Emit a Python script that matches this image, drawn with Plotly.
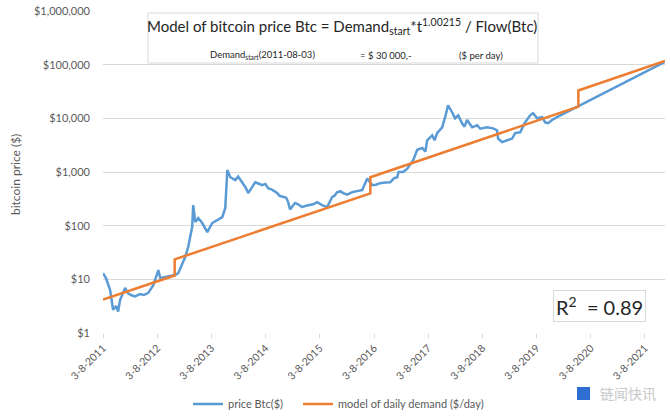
import plotly.graph_objects as go

# ---- data ----
price_dates = [
    "2011-08-03", "2011-08-23", "2011-09-20", "2011-10-10", "2011-10-30", "2011-11-13",
    "2011-11-26", "2011-12-30", "2012-01-19", "2012-02-08", "2012-03-05", "2012-04-09",
    "2012-05-05", "2012-06-03", "2012-07-07", "2012-08-10", "2012-08-23", "2012-09-26",
    "2012-10-29", "2012-12-02", "2012-12-22", "2013-02-07", "2013-02-27", "2013-03-26",
    "2013-04-02", "2013-04-16", "2013-05-06", "2013-06-02", "2013-07-06", "2013-08-08",
    "2013-09-11", "2013-10-15", "2013-11-04", "2013-11-18", "2013-12-08", "2013-12-24",
    "2014-01-10", "2014-01-30", "2014-02-27", "2014-03-20", "2014-04-08", "2014-04-25",
    "2014-05-25", "2014-06-15", "2014-07-11", "2014-08-01", "2014-08-20", "2014-09-15",
    "2014-10-20", "2014-11-05", "2014-11-29", "2014-12-20", "2015-01-02", "2015-01-15",
    "2015-02-05", "2015-02-18", "2015-03-10", "2015-04-06", "2015-05-01", "2015-05-30",
    "2015-06-20", "2015-07-16", "2015-08-19", "2015-09-22", "2015-10-25", "2015-11-10",
    "2015-11-28", "2015-12-20", "2016-01-07", "2016-02-05", "2016-03-08", "2016-04-10",
    "2016-05-15", "2016-06-18", "2016-07-21", "2016-08-15", "2016-09-13", "2016-10-15",
    "2016-11-20", "2016-12-15", "2017-01-06", "2017-01-15", "2017-02-15", "2017-03-15",
    "2017-04-04", "2017-04-24", "2017-05-21", "2017-06-24", "2017-07-15", "2017-07-27",
    "2017-08-30", "2017-09-15", "2017-10-02", "2017-11-05", "2017-11-25", "2017-12-15",
    "2018-01-11", "2018-01-31", "2018-02-21", "2018-03-19", "2018-04-05", "2018-04-22",
    "2018-05-26", "2018-06-29", "2018-07-20", "2018-08-01", "2018-09-04", "2018-10-14",
    "2018-11-10", "2018-11-17", "2018-12-14", "2019-01-17", "2019-02-20", "2019-03-12",
    "2019-04-15", "2019-05-18", "2019-06-21", "2019-07-11", "2019-08-07", "2019-09-10",
    "2019-09-30", "2019-10-20", "2019-11-16", "2019-12-19", "2021-12-12",
]
price_values = [
    13, 10.6, 6.3, 2.7, 3.2, 2.5,
    4.1, 6.9, 5.5, 5.1, 4.8, 5.3,
    5.1, 5.6, 7.8, 14.9, 10.6, 11,
    11.5, 12, 13, 26, 40, 94,
    242, 117, 139, 112, 76, 112,
    127, 144, 212, 1090, 800, 760,
    705, 820, 620, 520, 405, 470,
    645, 610, 570, 600, 500, 470,
    405, 360, 340, 330, 275, 200,
    240, 265, 250, 222, 235, 242,
    250, 275, 242, 222, 340, 360,
    420, 440, 405, 380, 420, 440,
    460, 760, 570, 580, 620, 640,
    645, 760, 800, 1000, 1000, 1150,
    1350, 1660, 2600, 2800, 2400, 3900,
    4800, 3900, 5300, 6800, 10500, 17400,
    13000, 10000, 11400, 8100, 7000, 9300,
    6800, 7400, 6400, 6500, 6800, 6500,
    6000, 4200, 3600, 3900, 4200, 5300,
    5500, 8400, 11400, 12500, 10000, 10500,
    8400, 8100, 9300, 10500, 112000,
]

model_dates = ["2011-08-03", "2012-11-28", "2012-11-28", "2016-07-09",
               "2016-07-09", "2020-05-11", "2020-05-11", "2021-12-16"]
model_values = [4.2, 11.8, 23.5, 400, 800, 16500, 33000, 118000]

y_tick_vals = [1, 10, 100, 1000, 10000, 100000, 1000000]
y_tick_text = ["$1", "$10", "$100", "$1,000", "$10,000", "$100,000", "$1,000,000"]
x_tick_vals = [f"{y}-08-03" for y in range(2011, 2022)]
x_tick_text = [f"3-8-{y}" for y in range(2011, 2022)]

BLUE = "#5B9BD5"
ORANGE = "#ED7D31"
GREY = "#595959"
GRID = "#D9D9D9"
DARK = "#262626"
FONT = "Lato, Open Sans, sans-serif"

fig = go.Figure()
fig.add_trace(go.Scatter(x=price_dates, y=price_values, mode="lines",
                         name="price Btc($)", line=dict(color=BLUE, width=2.5),
                         legend="legend"))
fig.add_trace(go.Scatter(x=model_dates, y=model_values, mode="lines",
                         name="model of daily demand ($/day)",
                         line=dict(color=ORANGE, width=2.5), legend="legend2"))

W, H = 670, 416
L, R, T, B = 103, 5, 11, 83
pw, ph = W - L - R, H - T - B


def px(x):
    return (x - L) / pw


def py(y):
    return (H - B - y) / ph


leg_common = dict(orientation="h", xanchor="left", y=py(404), yanchor="middle",
                  font=dict(size=11, color=GREY), bgcolor="rgba(0,0,0,0)",
                  itemwidth=30)

fig.update_layout(
    width=W, height=H,
    margin=dict(l=L, r=R, t=T, b=B, autoexpand=False),
    paper_bgcolor="white", plot_bgcolor="white",
    font=dict(family=FONT, color=GREY, size=11),
    showlegend=True,
    legend=dict(x=px(188), **leg_common),
    legend2=dict(x=px(298), **leg_common),
    xaxis=dict(type="date", range=["2011-08-03", "2021-12-16"],
               tickvals=x_tick_vals, ticktext=x_tick_text, tickangle=-45,
               showgrid=False, zeroline=False, showline=False,
               ticks="outside", ticklen=4, tickcolor=GRID, automargin=False,
               tickfont=dict(size=10.5, color=GREY)),
    yaxis=dict(type="log", range=[0, 6], tickvals=y_tick_vals, ticktext=y_tick_text,
               showgrid=True, gridcolor=GRID, gridwidth=1, zeroline=False, showline=False,
               ticks="", ticklabelstandoff=12, automargin=False,
               tickfont=dict(size=11, color=GREY)),
)


def note(text, x, y, size, color=DARK, family=None, **kw):
    f = dict(size=size, color=color)
    if family:
        f["family"] = family
    fig.add_annotation(text=text, xref="paper", yref="paper", x=px(x), y=py(y),
                       xanchor="center", yanchor="middle", showarrow=False,
                       font=f, **kw)


# y axis title
note("bitcoin price ($)", 15, 175, 12, GREY, textangle=-90)

# title box
fig.add_shape(type="rect", xref="paper", yref="paper",
              x0=px(148), x1=px(538), y0=py(63), y1=py(13),
              fillcolor="white", line=dict(color=GRID, width=1), layer="above")
note("Model of bitcoin price Btc = Demand<sub>start</sub>*t<sup>1.00215</sup> / Flow(Btc)",
     342, 26, 15)
note("Demand<sub>start</sub>(2011-08-03)", 262, 55, 9.5)
note("= $ 30 000,-", 386, 55, 9.5)
note("($ per day)", 481, 55, 9.5)

# R^2 box
note("R<sup>2</sup>  = 0.89", 599, 306, 20, bordercolor=GRID, borderwidth=1,
     borderpad=2, bgcolor="white")

# watermark
fig.add_shape(type="rect", xref="paper", yref="paper",
              x0=px(577), x1=px(590), y0=py(400), y1=py(387),
              fillcolor="#2F6FD1", line=dict(width=0), layer="above")
note("链闻快讯", 628, 393, 14, "#C8C8C8", family="Noto Sans CJK SC")

fig.write_html("out.html", config={"displayModeBar": False},
               post_script="document.body.style.margin='0';document.body.style.overflow='hidden';")
